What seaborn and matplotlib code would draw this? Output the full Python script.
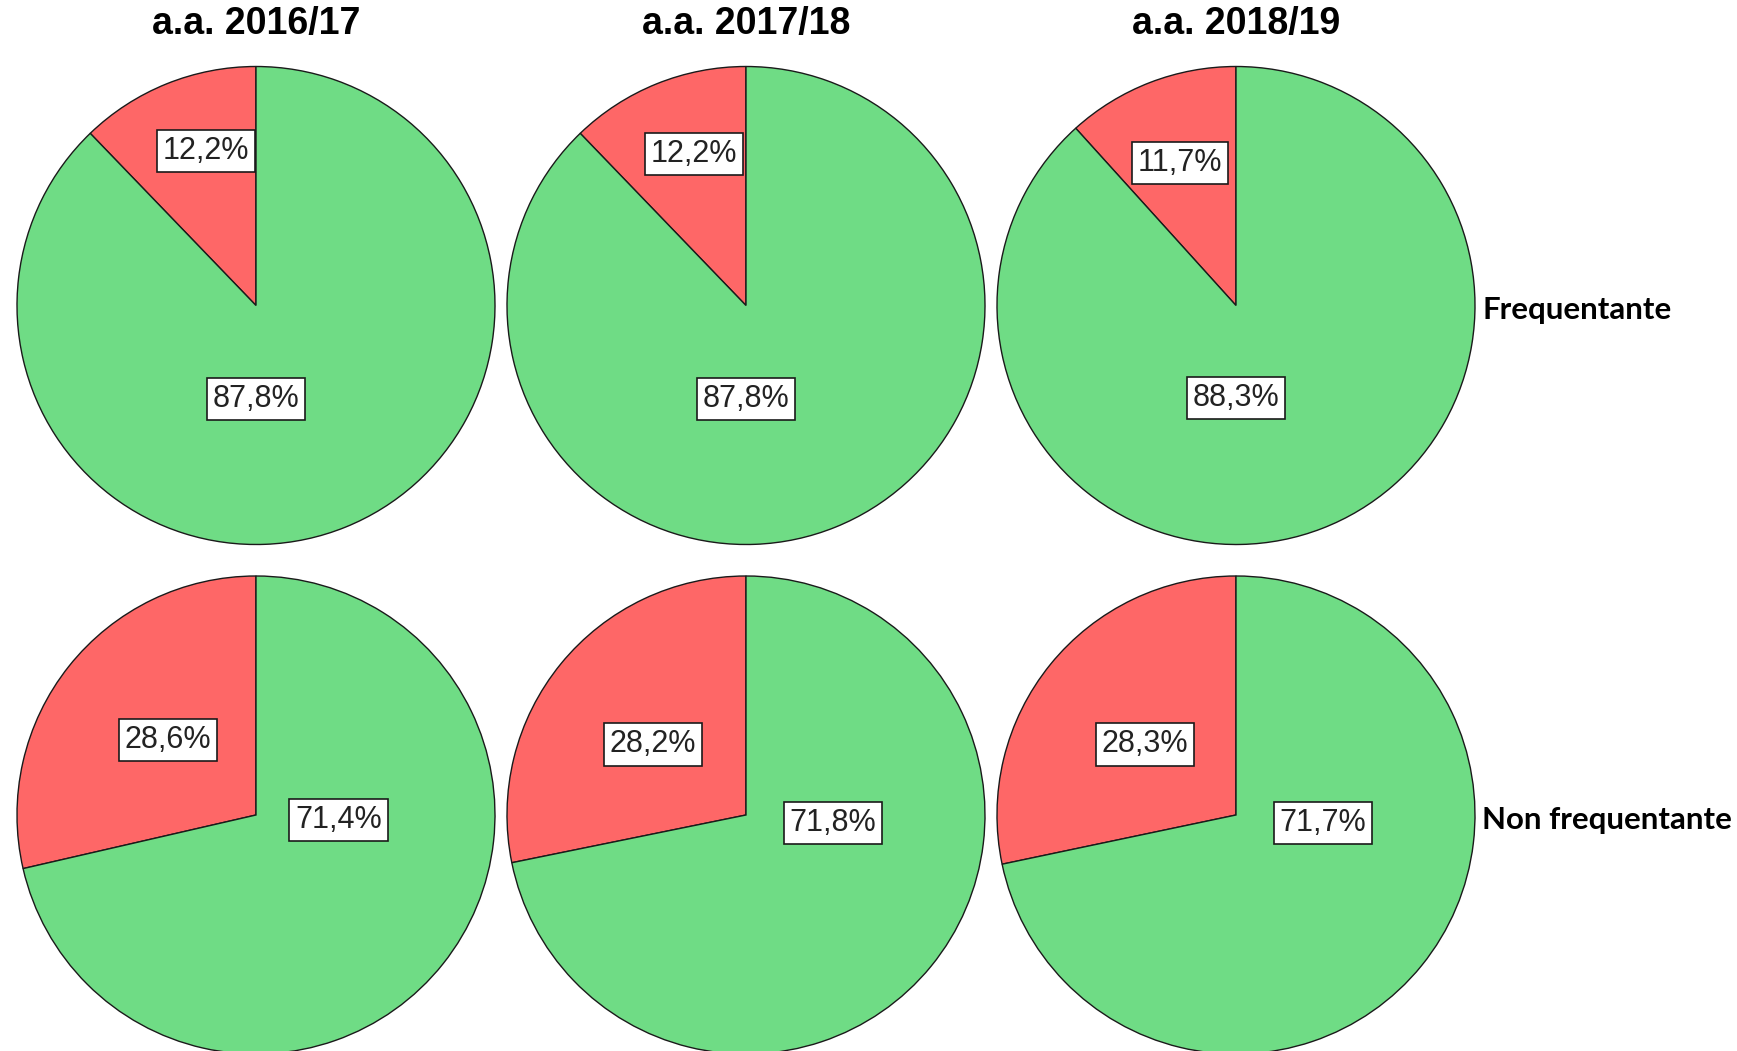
import matplotlib
matplotlib.use("Agg")
import matplotlib.pyplot as plt
import seaborn as sns
import numpy as np

# ---- data ----
years = ["a.a. 2016/17", "a.a. 2017/18", "a.a. 2018/19"]
groups = ["Frequentante", "Non frequentante"]
categories = ["No", "Sì"]  # red, green
red_frequentante = [12.2, 12.2, 11.7]
green_frequentante = [87.8, 87.8, 88.3]
red_non_frequentante = [28.6, 28.2, 28.3]
green_non_frequentante = [71.4, 71.8, 71.7]

# ---- style ----
sns.set_theme(style="white")
plt.rcParams['font.family'] = ['Liberation Sans', 'DejaVu Sans']
palette = sns.color_palette(["#FE6767", "#6FDC85"])

W, H = 1737, 1051
R = 239
centers_x = [256, 746, 1236]
centers_y = [305.5, 815]

# label placement (in radius units, relative to pie centre) per row, pie, slice
label_offsets = [
    [[(-0.209, 0.645), (0.0, -0.392)],
     [(-0.218, 0.635), (0.0, -0.392)],
     [(-0.234, 0.595), (0.0, -0.386)]],
    [[(-0.368, 0.314), (0.347, -0.020)],
     [(-0.389, 0.295), (0.364, -0.032)],
     [(-0.381, 0.295), (0.364, -0.032)]],
]

rows = [
    (red_frequentante, green_frequentante),
    (red_non_frequentante, green_non_frequentante),
]

fig = plt.figure(figsize=(W / 100, H / 100), dpi=100)
fig.patch.set_facecolor("white")

for r, (reds, greens) in enumerate(rows):
    for c in range(3):
        cx, cy = centers_x[c], centers_y[r]
        ax = fig.add_axes([(cx - R) / W, (H - cy - R) / H, 2 * R / W, 2 * R / H])
        vals = [reds[c], greens[c]]
        wedges, texts, autotexts = ax.pie(
            vals, colors=palette, startangle=90, counterclock=True,
            radius=1.0,
            autopct=lambda p: f"{p:.1f}%".replace(".", ","),
            wedgeprops=dict(edgecolor="#1a1a1a", linewidth=1.0),
            textprops=dict(fontsize=22, color="#222222"),
        )
        for t, (dx, dy) in zip(autotexts, label_offsets[r][c]):
            t.set_position((dx, dy))
            t.set_ha("center")
            t.set_va("center")
            t.set_bbox(dict(boxstyle="square,pad=0.2", facecolor="white",
                            edgecolor="#1a1a1a", linewidth=1.2))
        ax.set_xlim(-1.0, 1.0)
        ax.set_ylim(-1.0, 1.0)
        ax.set_aspect("equal")
        ax.axis("off")
        if r == 0:
            ax.text(0.5, 1.088, years[c], transform=ax.transAxes,
                    ha="center", va="center", fontsize=27, fontweight="bold",
                    color="black")
        if c == 2:
            ax.text(1.015, 0.49, groups[r], transform=ax.transAxes,
                    ha="left", va="center", fontsize=22.5, fontweight="bold",
                    family=["Lato", "DejaVu Sans"], color="black")

fig.savefig("out.png", dpi=100, facecolor="white")
